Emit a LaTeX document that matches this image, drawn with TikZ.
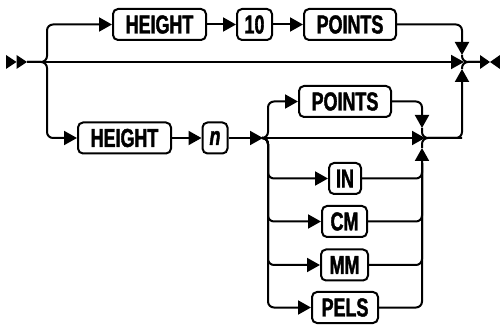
\documentclass[tikz,border=0pt]{standalone}
\usepackage{fontspec}
\setmainfont{Liberation Sans}[FakeStretch=0.69,BoldFeatures={FakeBold=1.5},BoldItalicFeatures={FakeBold=1.5}]
\usetikzlibrary{arrows.meta}

\begin{document}
\begin{tikzpicture}[x=1pt,y=-1pt,line width=2pt,>={Triangle[length=13pt,width=14pt]},
        kw/.style={draw,rounded corners=5pt,minimum height=31pt,inner sep=0pt,
          font=\bfseries\fontsize{26}{28}\selectfont},
        rail/.style={rounded corners=6pt}]
        \useasboundingbox (0,0) rectangle (500,328);
        % keywords
        \node[kw,minimum width=93pt] (h1) at (159.5,24.5) {HEIGHT};
        \node[kw,minimum width=35pt] (ten) at (254.5,24.5) {10};
        \node[kw,minimum width=92pt] (p1) at (350,24.5) {POINTS};
        \node[kw,minimum width=93pt] (h2) at (124.5,138) {HEIGHT};
        \node[kw,minimum width=25pt] (n) at (215,138) {\itshape n};
        \node[kw,minimum width=92pt] (p2) at (345,101.5) {POINTS};
        \node[kw,minimum width=32pt] (in) at (345,178.5) {IN};
        \node[kw,minimum width=45pt] (cm) at (344.5,221.5) {CM};
        \node[kw,minimum width=47pt] (mm) at (344.5,265) {MM};
        \node[kw,minimum width=66pt] (pels) at (345,307.5) {PELS};
        % rails
        \coordinate (s) at (27,62);
        \coordinate (e) at (480,62);
        \coordinate (mj) at (464,62);
        \coordinate (lv) at (47,0);
        \coordinate (rv) at (462,0);
        \coordinate (tin) at (462,55);
        \coordinate (bin) at (462,69);
        \coordinate (nj) at (263,138);
        \coordinate (v2) at (268,0);
        \coordinate (v3) at (422,0);
        \coordinate (lm) at (422,138);
        \coordinate (lt) at (425,138);
        \coordinate (dt) at (422,128);
        \coordinate (ut) at (422,148);
        \coordinate (ub) at (422,163);
        \fill (s) ++(-21,-7) -- ++(10.5,7) -- ++(-10.5,7) -- cycle;
        \fill (s) ++(-10.5,-7) -- ++(10.5,7) -- ++(-10.5,7) -- cycle;
        \draw[->] (s) -- (mj);
        \draw[->,rail] (s) -- (lv |- s) -- (lv |- h1) -- (h1);
        \draw[->] (h1) -- (ten);
        \draw[->] (ten) -- (p1);
        \draw[->,rail] (p1) -- (rv |- p1) -- (tin);
        \draw[rail] (tin) -- (rv |- e) -- (e);
        \draw[rail] (bin) -- (rv |- e) -- (e);
        \fill (e) ++(0,-7) -- ++(10,7) -- ++(-10,7) -- cycle;
        \fill (e) ++(20,-7) -- ++(-10,7) -- ++(10,7) -- cycle;
        \draw[->,rail] (s) -- (lv |- s) -- (lv |- h2) -- (h2);
        \draw[->] (h2) -- (n);
        \draw[->] (n) -- (nj);
        \draw[->] (nj) -- (lt);
        \draw[->,rail] (nj) -- (v2 |- nj) -- (v2 |- p2) -- (p2);
        \foreach \k in {in,cm,mm,pels}
          \draw[->,rail] (nj) -- (v2 |- nj) -- (v2 |- \k) -- (\k);
        \draw[->,rail] (p2) -- (v3 |- p2) -- (dt);
        \draw[->,rail] (pels) -- (v3 |- pels) -- (ut);
        \foreach \k in {in,cm,mm}
          \draw[rail] (\k) -- (v3 |- \k) -- (ub);
        \draw[->,rail] (dt) -- (lm) -- (rv |- lm) -- (bin);
        \draw[rail] (ut) -- (lm) -- (rv |- lm);
      \end{tikzpicture}
\end{document}
